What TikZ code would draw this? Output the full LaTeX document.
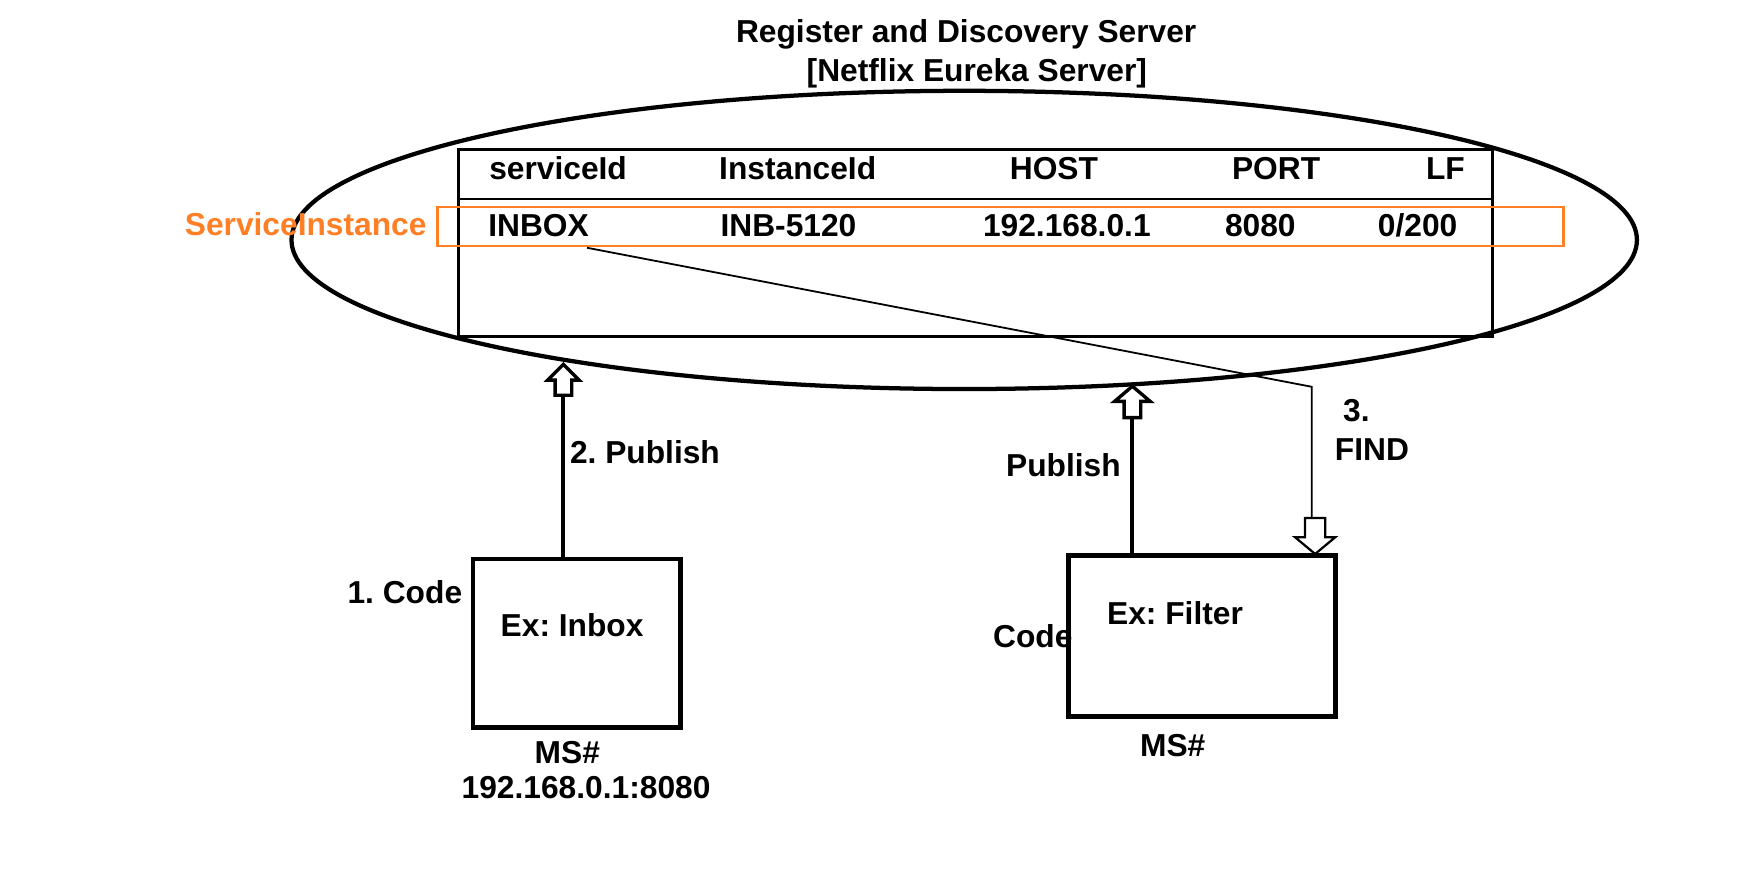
\documentclass[tikz,border=0pt]{standalone}
\usepackage{fontspec}
\setmainfont{Liberation Sans}
\usetikzlibrary{shapes.geometric}
\definecolor{orangeline}{RGB}{255,127,39}
\begin{document}
\frenchspacing
\begin{tikzpicture}[x=0.5pt,y=-0.5pt,
  txt/.style={inner sep=0pt, outer sep=0pt, anchor=base west, font=\fontsize{14.15pt}{17pt}\selectfont\bfseries\frenchspacing},
  ctxt/.style={txt, anchor=base},
  rtxt/.style={txt, anchor=base east},
  msbox/.style={draw, line width=2.1pt, inner sep=0pt, outer sep=0pt},
  headline/.style={draw, line width=1.5pt, fill=white, line join=miter},
  downhead/.style={draw, line width=1pt, fill=white, line join=miter},
  publine/.style={line width=1.8pt},
  findline/.style={line width=0.8pt}]
\useasboundingbox (0,0) rectangle (1568,784.9);

% title
\node[txt] (title1) at (656.5,38) {Register and Discovery Server};
\node[txt] (title2) at (719.5,72.5) {[Netflix Eureka Server]};

% server ellipse
\node[draw, ellipse, line width=1.9pt, minimum width=600pt, minimum height=133pt, inner sep=0pt] (server) at (860,214) {};

% table
\node[draw, line width=1.3pt, minimum width=461pt, minimum height=83.75pt, inner sep=0pt] (table) at (870,216.75) {};
\coordinate (sepL) at (409,177.5);
\draw[line width=1.3pt] (sepL) -- (sepL -| table.east);

% header
\node[txt] (hservice) at (436.4,160.3) {serviceId};
\node[txt] (hinstance) at (641.5,160.3) {InstanceId};
\node[txt] (hhost) at (900.7,160.3) {HOST};
\node[txt] (hport) at (1098.9,160.3) {PORT};
\node[txt] (hlf) at (1271.9,160.3) {LF};

% row
\node[txt] (rinbox) at (435.5,210.5) {INBOX};
\node[txt] (rinst) at (642.7,210.5) {INB-5120};
\node[txt] (rhost) at (876.8,210.5) {192.168.0.1};
\node[txt] (rport) at (1092.6,210.5) {8080};
\node[txt] (rlf) at (1229,210.5) {0/200};

% service instance highlight
\node[draw=orangeline, line width=1.2pt, minimum width=502.25pt, minimum height=17.5pt, inner sep=0pt] (siframe) at (892.25,202) {};
\node[txt, text=orangeline] (silabel) at (164.9,210) {ServiceInstance};

% microservice boxes
\node[msbox, minimum width=92.5pt, minimum height=74.95pt] (inbox) at (514.5,573.65) {};
\node[msbox, minimum width=119.3pt, minimum height=71.8pt] (filter) at (1072,567.4) {};

\node[txt] (inboxlbl) at (446.6,567.8) {Ex: Inbox};
\node[txt] (code1) at (310,538.7) {1. Code};
\node[ctxt] (ms1) at (506,681.4) {MS\#};
\node[txt] (ip1) at (411.8,712) {192.168.0.1:8080};

\node[txt] (filterlbl) at (987.5,557.4) {Ex: Filter};
\node[txt] (code2) at (885.8,577.7) {Code};
\node[ctxt] (ms2) at (1046,674.9) {MS\#};

% publish arrows
\coordinate (pub1) at (502.5,352.5);
\coordinate (tip1) at (502.5,325);
\draw[publine] (pub1 |- inbox.north) -- (pub1);
\path[headline] (tip1) -- ++(14,14) -- ++(-6.6,0) -- ++(0,13.5) -- ++(-14.8,0) -- ++(0,-13.5) -- ++(-6.6,0) -- cycle;
\node[txt] (publish1) at (508.4,413.3) {2. Publish};

\coordinate (pub2) at (1010,372.5);
\coordinate (tip2) at (1010,344.5);
\draw[publine] (pub2 |- filter.north) -- (pub2);
\path[headline] (tip2) -- ++(15.9,13.5) -- ++(-8.5,0) -- ++(0,14.5) -- ++(-14.8,0) -- ++(0,-14.5) -- ++(-8.5,0) -- cycle;
\node[rtxt] (publish2) at (999.6,425.2) {Publish};

% find connector
\coordinate (findstart) at (523.6,221);
\coordinate (findbend) at (1170,345);
\coordinate (findend) at (1170,462);
\draw[findline] (findstart) -- (findbend) -- (findend);
\coordinate (tip3) at (1173,494);
\path[downhead] (tip3 |- filter.north) ++(0,-1.5) coordinate (tip3b)
  -- ++(18,-15) -- ++(-9,0) -- ++(0,-17) -- ++(-18,0) -- ++(0,17) -- ++(-9,0) -- cycle;
\node[txt] (find3) at (1198,376) {3.};
\node[txt] (findlbl) at (1190.7,410.3) {FIND};
\end{tikzpicture}
\end{document}
